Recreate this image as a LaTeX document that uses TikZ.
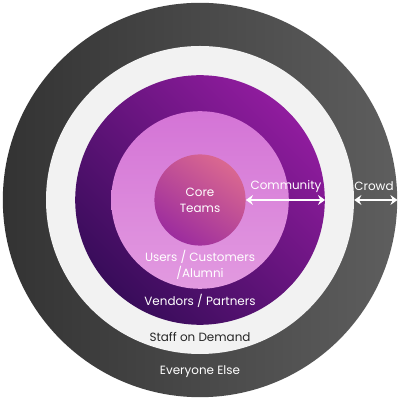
\documentclass[tikz,border=0pt]{standalone}
\usepackage{fontspec}
\setmainfont{Poppins}
\usetikzlibrary{arrows.meta,positioning}

\definecolor{ringdarkL}{HTML}{333333}
\definecolor{ringdarkR}{HTML}{5E5E5E}
\definecolor{ringlight}{HTML}{F2F2F2}
\definecolor{purpdark}{HTML}{380C5A}
\definecolor{purpbright}{HTML}{901C9E}
\definecolor{pinktop}{HTML}{D474D6}
\definecolor{pinkbot}{HTML}{E29AE0}
\definecolor{coretop}{HTML}{DA6890}
\definecolor{corebot}{HTML}{9C2C9E}

\begin{document}
\begin{tikzpicture}[
  ring/.style={circle, inner sep=0pt, draw=none},
  lbl/.style={font=\fontsize{8.5}{11.5}\selectfont, text=white, align=center},
  dbl/.style={{Stealth[length=5pt,width=7pt]}-{Stealth[length=5pt,width=7pt]},
              line width=1.6pt, white},
]
\useasboundingbox (-5,-5) rectangle (5,5);

% --- rings, outside in ---
\node[ring, minimum size=9.86cm, left color=ringdarkL, right color=ringdarkR] (everyone) at (0,0) {};
\node[ring, minimum size=7.7cm, fill=ringlight] (staff) at (0,0) {};
\node[ring, minimum size=6.24cm, top color=purpbright, bottom color=purpdark, shading angle=-45] (vendors) at (0,0) {};
\node[ring, minimum size=4.44cm, top color=pinktop, bottom color=pinkbot] (users) at (0,0) {};
\node[ring, minimum size=2.28cm, top color=coretop, bottom color=corebot, shading angle=-35] (core) at (0,0) {};

% --- labels ---
\node[lbl] (lcore) at (0,0) {Core\\Teams};
\node[lbl] (lcomm) at (2.15,0.34) {Community};
\node[lbl] (lcrowd) at (4.35,0.34) {Crowd};
\node[lbl] (lusers) at (0,-1.62) {Users / Customers\\/Alumni};
\node[lbl] (lvend) at (0,-2.53) {Vendors / Partners};
\node[lbl, text=black!85] (lstaff) at (0,-3.43) {Staff on Demand};
\node[lbl] (lelse) at (0,-4.28) {Everyone Else};

% --- arrows ---
\draw[dbl] (core.east) -- (vendors.east);
\draw[dbl] (staff.east) -- (everyone.east);
\end{tikzpicture}
\end{document}
